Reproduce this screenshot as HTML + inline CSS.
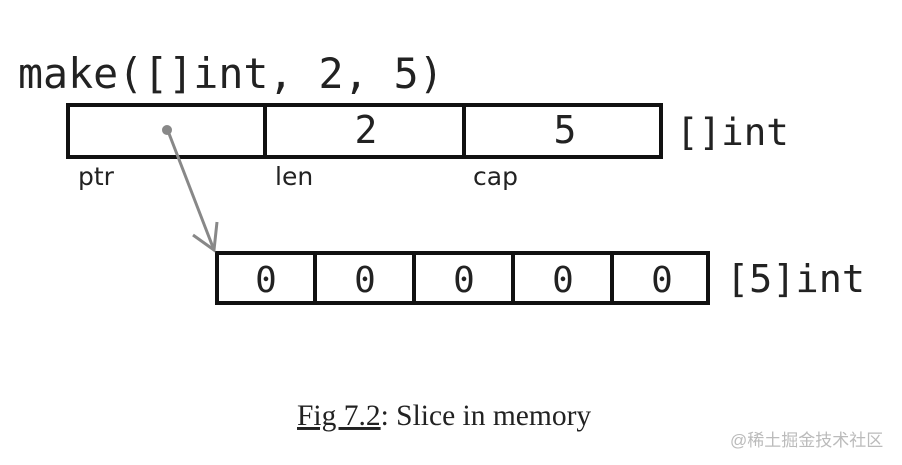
<!DOCTYPE html>
<html><head><meta charset="utf-8"><style>
body{margin:0;background:#fff;width:902px;height:465px;overflow:hidden;position:relative}
</style></head><body>
<svg width="902" height="465" viewBox="0 0 902 465" style="position:absolute;left:0;top:0">
<g font-family="DejaVu Sans Mono, Liberation Mono, monospace" fill="#222">
<text x="18" y="88" font-size="41.6">make([]int, 2, 5)</text>
<text x="366" y="143" font-size="38" text-anchor="middle">2</text>
<text x="565" y="143" font-size="38" text-anchor="middle">5</text>
<text x="676" y="145" font-size="37.5">[]int</text>
<text x="726" y="292" font-size="38.5">[5]int</text>
<text x="266" y="292" font-size="36" text-anchor="middle">0</text>
<text x="365" y="292" font-size="36" text-anchor="middle">0</text>
<text x="464" y="292" font-size="36" text-anchor="middle">0</text>
<text x="563" y="292" font-size="36" text-anchor="middle">0</text>
<text x="662" y="292" font-size="36" text-anchor="middle">0</text>
</g>
<g font-family="DejaVu Sans, Liberation Sans, sans-serif" font-size="25" fill="#222">
<text x="78" y="185">ptr</text>
<text x="275" y="185">len</text>
<text x="473" y="185">cap</text>
</g>
<g fill="none" stroke="#111" stroke-width="4">
<rect x="68" y="105" width="593" height="52"/>
<line x1="265" y1="105" x2="265" y2="157"/>
<line x1="464" y1="105" x2="464" y2="157"/>
<rect x="217" y="253" width="491" height="50"/>
<line x1="315" y1="253" x2="315" y2="303"/>
<line x1="414" y1="253" x2="414" y2="303"/>
<line x1="513" y1="253" x2="513" y2="303"/>
<line x1="612" y1="253" x2="612" y2="303"/>
</g>
<circle cx="167" cy="130" r="5" fill="#888"/>
<g stroke="#888" stroke-width="3" fill="none">
<line x1="168" y1="131" x2="214" y2="250"/>
<polyline points="193,235 214,250 217,222"/>
</g>
<text x="297" y="425" font-family="Liberation Serif, serif" font-size="29.5" fill="#222"><tspan text-decoration="underline">Fig 7.2</tspan>: Slice in memory</text>
<text x="730" y="446" font-family="Liberation Sans, Noto Sans CJK SC, sans-serif" font-size="17" fill="#bbb">@稀土掘金技术社区</text>
</svg>
</body></html>
